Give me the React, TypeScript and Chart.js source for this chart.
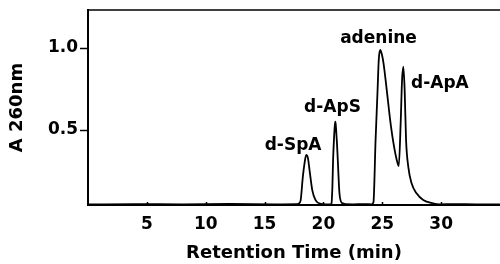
import React, { useEffect, useRef } from "react";
import { Chart, registerables } from "chart.js";

Chart.register(...registerables);

// Retention time (min)
const retentionTimes: number[] = [
  0, 4, 8, 12, 16, 17.7,
  17.9, 18.06, 18.25, 18.4, 18.54, 18.68, 18.82, 19.05, 19.33, 19.75, 20.2,
  20.6, 20.68, 20.76, 20.82, 20.9, 20.97, 21.02, 21.08, 21.15, 21.22, 21.36, 21.58, 21.9,
  22.5, 23.5, 24.1,
  24.25, 24.43, 24.6, 24.7, 24.82, 24.95, 25.1, 25.38, 25.67, 25.95, 26.23, 26.4,
  26.56, 26.68, 26.79, 26.9, 27.02, 27.21, 27.49, 27.91, 28.48, 29.3, 29.9, 31, 33, 35,
];

// Absorbance at 260 nm
const absorbance: number[] = [
  0.047, 0.048, 0.047, 0.049, 0.047, 0.048,
  0.052, 0.07, 0.215, 0.3, 0.348, 0.33, 0.256, 0.134, 0.073, 0.05, 0.047,
  0.047, 0.05, 0.15, 0.317, 0.45, 0.53, 0.551, 0.5, 0.42, 0.317, 0.116, 0.055, 0.048,
  0.047, 0.048, 0.047,
  0.06, 0.439, 0.744, 0.927, 0.988, 0.965, 0.91, 0.744, 0.561, 0.42, 0.317, 0.28,
  0.54, 0.805, 0.886, 0.744, 0.439, 0.276, 0.175, 0.114, 0.073, 0.053, 0.047, 0.048, 0.047, 0.047,
];

const xTickValues: number[] = [5, 10, 15, 20, 25, 30];
const yTickValues: number[] = [0.5, 1.0];

const peakLabels: string[] = ["d-SpA", "d-ApS", "adenine", "d-ApA"];
const peakLabelTimes: number[] = [17.42, 20.77, 24.68, 27.44];
const peakLabelValues: number[] = [0.378, 0.61, 1.03, 0.756];
const peakLabelAlign: CanvasTextAlign[] = ["center", "center", "center", "left"];

const FONT = '"DejaVu Sans", sans-serif';

const decorPlugin = {
  id: "decor",
  afterDraw(chart: any) {
    const { ctx, chartArea, scales } = chart;
    ctx.save();
    ctx.strokeStyle = "#000";
    ctx.lineWidth = 1.5;
    ctx.beginPath();
    ctx.moveTo(chartArea.left, chartArea.top);
    ctx.lineTo(chartArea.right, chartArea.top);
    ctx.stroke();
    for (const t of xTickValues) {
      const px = Math.round(scales.x.getPixelForValue(t)) + 0.5;
      ctx.beginPath();
      ctx.moveTo(px, chartArea.bottom);
      ctx.lineTo(px, chartArea.bottom - 3);
      ctx.stroke();
    }
    ctx.fillStyle = "#000";
    ctx.font = `bold 17px ${FONT}`;
    ctx.textBaseline = "alphabetic";
    peakLabels.forEach((txt, i) => {
      ctx.textAlign = peakLabelAlign[i];
      ctx.fillText(
        txt,
        scales.x.getPixelForValue(peakLabelTimes[i]),
        scales.y.getPixelForValue(peakLabelValues[i])
      );
    });
    ctx.restore();
  },
};

export default function App() {
  const ref = useRef<HTMLCanvasElement | null>(null);
  useEffect(() => {
    if (!ref.current) return;
    Chart.defaults.font.family = FONT;
    const chart = new Chart(ref.current, {
      type: "line",
      data: {
        datasets: [
          {
            data: retentionTimes.map((t, i) => ({ x: t, y: absorbance[i] })),
            borderColor: "#000",
            borderWidth: 1.8,
            pointRadius: 0,
            fill: false,
            cubicInterpolationMode: "monotone",
          },
        ],
      },
      options: {
        animation: false,
        responsive: false,
        devicePixelRatio: 1,
        layout: { padding: { top: 10, left: 0, right: 0, bottom: 0 } },
        plugins: { legend: { display: false }, tooltip: { enabled: false } },
        scales: {
          x: {
            type: "linear",
            min: 0,
            max: 35,
            afterBuildTicks: (scale: any) => {
              scale.ticks = xTickValues.map((v) => ({ value: v }));
            },
            afterFit: (scale: any) => {
              scale.height = 59;
              scale.paddingLeft = 0;
              scale.paddingRight = 0;
            },
            ticks: {
              color: "#000",
              font: { size: 17, weight: "bold", family: FONT },
              padding: 9,
              maxRotation: 0,
              callback: (v: any) => String(v),
            },
            grid: { display: true, drawOnChartArea: false, drawTicks: false },
            border: { display: true, color: "#000", width: 2 },
            title: {
              display: true,
              text: "Retention Time (min)",
              color: "#000",
              font: { size: 18, weight: "bold", family: FONT },
              padding: { top: 0, bottom: 0 },
            },
          },
          y: {
            type: "linear",
            min: 0.043,
            max: 1.232,
            afterBuildTicks: (scale: any) => {
              scale.ticks = yTickValues.map((v) => ({ value: v }));
            },
            afterFit: (scale: any) => {
              scale.width = 88;
              scale.paddingTop = 0;
              scale.paddingBottom = 0;
            },
            ticks: {
              color: "#000",
              font: { size: 17, weight: "bold", family: FONT },
              padding: 2,
              callback: (v: any) => Number(v).toFixed(1),
            },
            grid: {
              display: true,
              drawOnChartArea: false,
              drawTicks: true,
              tickLength: 8,
              tickColor: "#000",
              tickWidth: 1.5,
            },
            border: { display: true, color: "#000", width: 2 },
            title: {
              display: true,
              text: "A 260nm",
              color: "#000",
              font: { size: 18, weight: "bold", family: FONT },
              padding: { top: 7, bottom: 0 },
            },
          },
        },
      },
      plugins: [decorPlugin],
    });
    return () => chart.destroy();
  }, []);
  return (
    <div style={{ position: "fixed", left: 0, top: 0, width: 500, height: 264, background: "#fff" }}>
      <canvas ref={ref} width={500} height={264} />
    </div>
  );
}
